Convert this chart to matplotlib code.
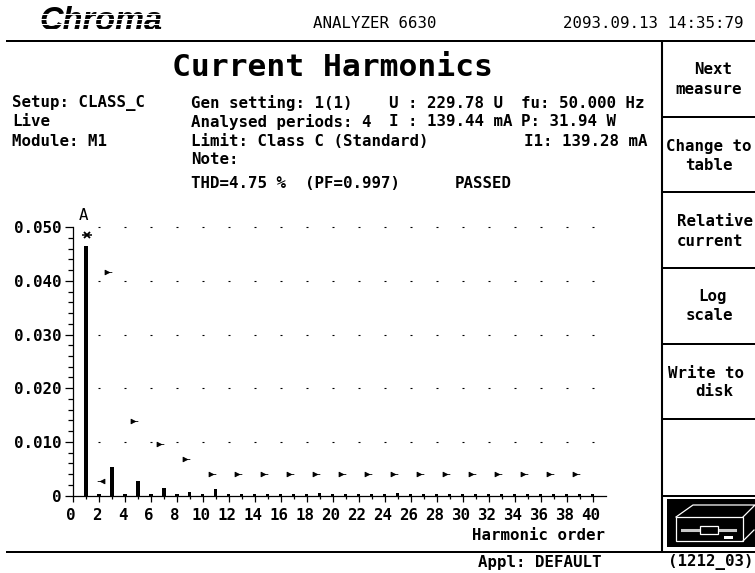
import matplotlib
matplotlib.use("Agg")
import matplotlib.pyplot as plt
from matplotlib.patches import Rectangle
from matplotlib.path import Path
from matplotlib.transforms import ScaledTranslation

# ---- data ----
orders = list(range(1, 41))
current = [0.0465, 0.0002, 0.0054, 0.0002, 0.0027, 0.0002, 0.00134, 0.0002, 0.0007, 0.0002,
           0.00115, 0.0002, 0.0002, 0.0002, 0.0002, 0.0002, 0.0002, 0.0002, 0.0005, 0.0002,
           0.0002, 0.0002, 0.0002, 0.0002, 0.0005, 0.0002, 0.0002, 0.0002, 0.0002, 0.0002,
           0.0002, 0.0002, 0.0002, 0.0002, 0.0002, 0.0002, 0.0002, 0.0002, 0.0002, 0.0002]
limit_orders = [3, 5, 7, 9, 11, 13, 15, 17, 19, 21, 23, 25, 27, 29, 31, 33, 35, 37, 39]
limit_values = [0.0416, 0.01384, 0.00967, 0.0068, 0.00396, 0.00396, 0.00396, 0.00396, 0.00396,
                0.00396, 0.00396, 0.00396, 0.00396, 0.00396, 0.00396, 0.00396, 0.00396, 0.00396, 0.00396]
fund_order = [1]
fund_limit = [0.0485]
second_order = [2]
second_limit = [0.0027]
x_major = list(range(0, 41, 2))
x_minor = list(range(1, 41, 2))
y_major = [0, 0.01, 0.02, 0.03, 0.04, 0.05]
y_labels = ["0", "0.010", "0.020", "0.030", "0.040", "0.050"]
y_minor = [i * 0.002 for i in range(1, 25) if i % 5]
grid_x = x_major[1:]
grid_y = y_major[1:]

W, H = 755, 573
FONT = "DejaVu Sans Mono"
FS = 11.3
fig = plt.figure(figsize=(W / 100, H / 100), dpi=100, facecolor="white")

# ---- screen furniture, in pixels ----
bg = fig.add_axes([0, 0, 1, 1], zorder=0)
bg.set_xlim(0, W)
bg.set_ylim(H, 0)
bg.axis("off")


def hline(y, x0, x1=W, lw=2, color="black", zorder=2):
    bg.plot([x0, x1], [y, y], color=color, lw=lw * 0.72, solid_capstyle="butt", zorder=zorder)


hline(41, 6)
hline(552, 6)
bg.plot([662, 662], [41, 552], color="black", lw=1.5, solid_capstyle="butt")
for yy in [117, 192, 268, 344, 419, 496]:
    hline(yy, 662)


def label(x, y, s, size=FS, weight="bold", ha="left"):
    bg.text(x, y, s, fontsize=size, family=FONT, fontweight=weight, ha=ha, va="center", color="black")


label(313, 24, "ANALYZER 6630", weight="normal")
label(563, 23, "2093.09.13 14:35:79", weight="normal")
label(172, 67, "Current Harmonics", size=22.6)
label(12, 103, "Setup: CLASS_C")
label(12, 122, "Live")
label(12, 141, "Module: M1")
label(191, 103, "Gen setting: 1(1)")
label(389, 103, "U : 229.78 U")
label(521, 103, "fu: 50.000 Hz")
label(191, 122, "Analysed periods: 4")
label(389, 122, "I : 139.44 mA")
label(521, 122, "P: 31.94 W")
label(191, 141, "Limit: Class C (Standard)")
label(524, 141, "I1: 139.28 mA")
label(191, 160, "Note:")
label(191, 183, "THD=4.75 %  (PF=0.997)")
label(455, 183, "PASSED")
label(713, 70, "Next", ha="center")
label(709, 89, "measure", ha="center")
label(709, 146, "Change to", ha="center")
label(709, 165, "table", ha="center")
label(677, 222, "Relative")
label(677, 241, "current")
label(713, 297, "Log", ha="center")
label(709, 316, "scale", ha="center")
label(668, 373, "Write to")
label(695, 392, "disk")
label(472, 535, "Harmonic order")
label(478, 562, "Appl: DEFAULT")
label(668, 562, "(1212_03)")
label(79, 216, "A", weight="normal")

# logo: heavy italic word cut by white scan lines
bg.text(39, 22, "Chroma", fontsize=23.5, family="Liberation Sans", fontweight="bold", style="italic",
        ha="left", va="center", color="black")
for yy in [13.5, 18.5, 23.5, 28.5]:
    hline(yy, 34, 170, lw=1.1, color="white", zorder=4)

# instrument icon
bg.add_patch(Rectangle((667, 499), 88, 48, fc="black", ec="none"))
white = dict(color="white", lw=0.9)
bg.add_patch(Rectangle((676, 517), 67, 24, fc="none", ec="white", lw=0.9))
bg.plot([676, 693, 755, 743], [517, 505, 505, 517], **white)
bg.plot([743, 754], [541, 530], **white)
bg.plot([682, 735], [530, 530], color="#c8c8c8", lw=2.2)
bg.add_patch(Rectangle((700, 526), 18, 8, fc="black", ec="white", lw=0.9, zorder=3))
bg.add_patch(Rectangle((724, 536), 9, 3, fc="white", ec="none"))

# ---- chart ----
x0, x1 = 73, 605.7
y0, y1 = 495.5, 227.3
ax = fig.add_axes([x0 / W, 1 - y0 / H, (x1 - x0) / W, (y0 - y1) / H], zorder=1)
ax.patch.set_alpha(0)
ax.set_xlim(0, 41)
ax.set_ylim(0, 0.05)
for s in ["top", "right"]:
    ax.spines[s].set_visible(False)
for s in ["left", "bottom"]:
    ax.spines[s].set_linewidth(0.9)

ax.bar(orders, current, width=0.24, color="black", zorder=3)

for xv in grid_x:
    ax.plot([xv] * len(grid_y), grid_y, ls="none", marker="_", ms=1.8, mew=0.8, color="black", clip_on=False)

right_arrow = Path([(-0.9, -0.6), (0.3, 0), (-0.9, 0.6), (-0.9, -0.6), (-0.9, 0), (1, 0)],
                   [Path.MOVETO, Path.LINETO, Path.LINETO, Path.CLOSEPOLY, Path.MOVETO, Path.LINETO])
left_arrow = Path([(0.9, -0.6), (-0.3, 0), (0.9, 0.6), (0.9, -0.6), (0.9, 0), (-1, 0)],
                  [Path.MOVETO, Path.LINETO, Path.LINETO, Path.CLOSEPOLY, Path.MOVETO, Path.LINETO])
style = dict(ls="none", color="black", ms=5.5, mew=0.6, clip_on=False)
ax.plot([o - 0.27 for o in limit_orders], limit_values, marker=right_arrow, **style)
ax.plot([o + 0.15 for o in second_order], second_limit, marker=left_arrow, **style)
ax.plot([o + 0.05 for o in fund_order], fund_limit, marker="x", ms=5, mew=1.3, ls="none", color="black")
ax.plot([o + 0.05 for o in fund_order], fund_limit, marker="_", ms=6.5, mew=1.1, ls="none", color="black")

ax.set_xticks(x_major)
ax.set_xticks(x_minor, minor=True)
ax.set_yticks(y_major, labels=y_labels)
ax.set_yticks(y_minor, minor=True)
ax.tick_params(axis="x", which="major", length=4, width=0.9, pad=5, labelsize=FS)
ax.tick_params(axis="x", which="minor", length=2, width=0.9)
ax.tick_params(axis="y", which="major", length=6, width=0.9, pad=2, labelsize=FS)
ax.tick_params(axis="y", which="minor", length=3.5, width=0.9)
shift = ScaledTranslation(-2 / 100, 0, fig.dpi_scale_trans)
for t in ax.get_xticklabels():
    t.set_transform(t.get_transform() + shift)
for t in ax.get_xticklabels() + ax.get_yticklabels():
    t.set_family(FONT)
    t.set_fontweight("bold")

fig.savefig("out.png", dpi=100, facecolor="white")
